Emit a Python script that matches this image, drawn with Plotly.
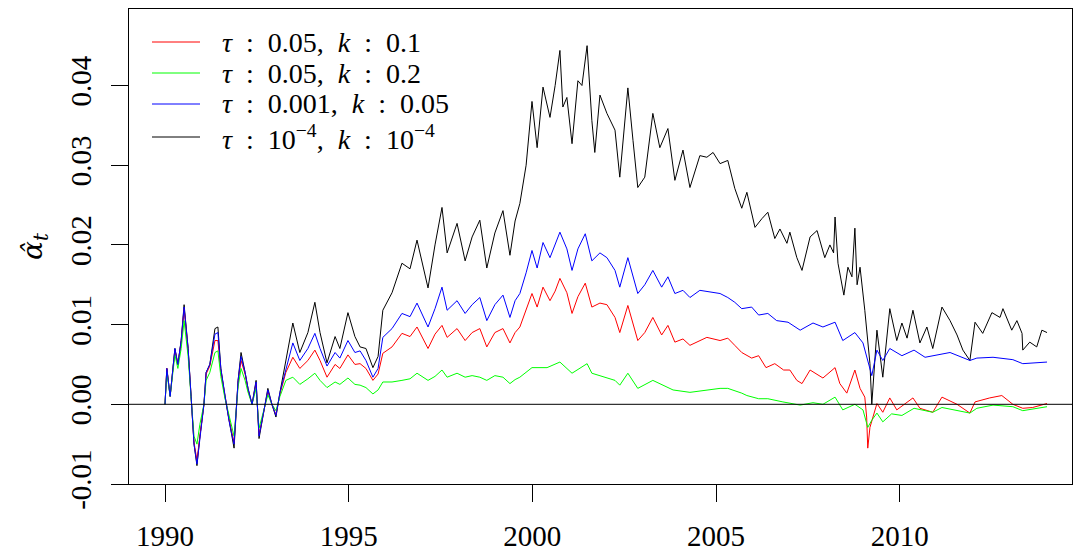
import plotly.graph_objects as go

# ---------------- data ----------------
black_years = [1990.00, 1990.05, 1990.14, 1990.27, 1990.35, 1990.44, 1990.52, 1990.63, 1990.71, 1990.79,
               1990.87, 1990.95, 1991.06, 1991.12, 1991.22, 1991.36, 1991.44, 1991.52, 1991.63, 1991.74,
               1991.82, 1991.88, 1991.99, 1992.07, 1992.18, 1992.26, 1992.37, 1992.48, 1992.56, 1992.72,
               1992.80, 1992.91, 1993.02, 1993.13, 1993.29, 1993.48, 1993.67, 1993.89, 1994.08, 1994.22,
               1994.41, 1994.63, 1994.76, 1994.98, 1995.17, 1995.31, 1995.47, 1995.66, 1995.80, 1995.93,
               1996.18, 1996.45, 1996.67, 1996.86, 1997.16, 1997.35, 1997.54, 1997.68, 1997.95, 1998.17,
               1998.36, 1998.57, 1998.76, 1998.98, 1999.20, 1999.39, 1999.53, 1999.66, 1999.83, 1999.99,
               2000.13, 2000.29, 2000.48, 2000.62, 2000.75, 2000.83, 2000.94, 2001.08, 2001.24, 2001.35,
               2001.49, 2001.62, 2001.70, 2001.84, 2002.03, 2002.25, 2002.38, 2002.60, 2002.74, 2002.87,
               2003.06, 2003.28, 2003.47, 2003.69, 2003.88, 2004.10, 2004.29, 2004.56, 2004.75, 2004.92,
               2005.11, 2005.32, 2005.51, 2005.70, 2005.84, 2006.06, 2006.25, 2006.41, 2006.60, 2006.74,
               2006.93, 2007.01, 2007.20, 2007.34, 2007.56, 2007.75, 2007.96, 2008.10, 2008.20, 2008.24,
               2008.32, 2008.48, 2008.59, 2008.70, 2008.78, 2008.84, 2008.92, 2009.05, 2009.19, 2009.24,
               2009.38, 2009.54, 2009.73, 2009.92, 2010.06, 2010.20, 2010.36, 2010.55, 2010.74, 2010.90,
               2011.15, 2011.37, 2011.56, 2011.72, 2011.91, 2012.05, 2012.26, 2012.51, 2012.73, 2012.81,
               2013.05, 2013.19, 2013.33, 2013.35, 2013.54, 2013.73, 2013.87, 2014.01]
black_vals = [0.0000, 0.0045, 0.0010, 0.0070, 0.0050, 0.0080, 0.0125, 0.0070, 0.0010, -0.0050,
              -0.0077, -0.0040, 0.0000, 0.0040, 0.0050, 0.0095, 0.0097, 0.0045, 0.0010, -0.0020,
              -0.0040, -0.0055, 0.0030, 0.0065, 0.0040, 0.0020, 0.0000, 0.0030, -0.0043, 0.0000,
              0.0020, 0.0000, -0.0016, 0.0015, 0.0055, 0.0102, 0.0065, 0.0090, 0.0128, 0.0090,
              0.0052, 0.0085, 0.0070, 0.0115, 0.0085, 0.0072, 0.0070, 0.0046, 0.0060, 0.0118,
              0.0140, 0.0177, 0.0170, 0.0206, 0.0146, 0.0200, 0.0247, 0.0190, 0.0227, 0.0180,
              0.0210, 0.0231, 0.0171, 0.0215, 0.0243, 0.0187, 0.0230, 0.0252, 0.0300, 0.0380,
              0.0322, 0.0398, 0.0360, 0.0400, 0.0444, 0.0373, 0.0385, 0.0327, 0.0406, 0.0400,
              0.0450, 0.0356, 0.0316, 0.0388, 0.0365, 0.0344, 0.0285, 0.0397, 0.0331, 0.0272,
              0.0285, 0.0365, 0.0322, 0.0346, 0.0281, 0.0319, 0.0272, 0.0312, 0.0310, 0.0316,
              0.0302, 0.0306, 0.0271, 0.0246, 0.0266, 0.0222, 0.0233, 0.0241, 0.0208, 0.0220,
              0.0202, 0.0216, 0.0184, 0.0168, 0.0210, 0.0218, 0.0184, 0.0200, 0.0190, 0.0235,
              0.0177, 0.0137, 0.0172, 0.0160, 0.0221, 0.0150, 0.0172, 0.0118, 0.0051, 0.0000,
              0.0093, 0.0034, 0.0120, 0.0080, 0.0102, 0.0083, 0.0118, 0.0077, 0.0097, 0.0070,
              0.0122, 0.0105, 0.0087, 0.0068, 0.0055, 0.0103, 0.0089, 0.0115, 0.0109, 0.0120,
              0.0093, 0.0105, 0.0089, 0.0068, 0.0078, 0.0072, 0.0093, 0.0090]

early_years = [1990.00, 1990.05, 1990.14, 1990.27, 1990.35, 1990.44, 1990.52, 1990.63, 1990.71, 1990.79,
               1990.87, 1990.95, 1991.06, 1991.12, 1991.22, 1991.36, 1991.44, 1991.52, 1991.63, 1991.74,
               1991.82, 1991.88, 1991.99, 1992.07, 1992.18, 1992.26, 1992.37, 1992.48, 1992.56, 1992.72,
               1992.80, 1992.91, 1993.02, 1993.13, 1993.29, 1993.48, 1993.67, 1993.89, 1994.08, 1994.22,
               1994.41, 1994.63, 1994.76, 1994.98, 1995.17, 1995.31, 1995.47, 1995.66, 1995.80, 1995.93,
               1996.18, 1996.45, 1996.67, 1996.86, 1997.16, 1997.35, 1997.54, 1997.68, 1997.95, 1998.17,
               1998.36, 1998.57, 1998.76, 1998.98, 1999.20, 1999.39, 1999.53, 1999.66, 1999.83, 1999.99]

blue_years = early_years + [
    2000.13, 2000.29, 2000.48, 2000.62, 2000.75, 2000.94, 2001.08, 2001.24, 2001.44, 2001.62,
    2001.84, 2002.03, 2002.25, 2002.38, 2002.60, 2002.87, 2003.06, 2003.28, 2003.52, 2003.69,
    2003.88, 2004.10, 2004.29, 2004.56, 2004.92, 2005.11, 2005.32, 2005.51, 2005.70, 2005.97,
    2006.16, 2006.41, 2006.65, 2006.96, 2007.29, 2007.64, 2007.91, 2008.24, 2008.45, 2008.78,
    2009.00, 2009.19, 2009.24, 2009.38, 2009.54, 2009.73, 2010.06, 2010.39, 2010.69, 2011.37,
    2011.83, 2011.91, 2012.10, 2012.54, 2013.08, 2013.35, 2014.01]
blue_vals = [0.0000, 0.0045, 0.0010, 0.0070, 0.0050, 0.0080, 0.0122, 0.0070, 0.0010, -0.0050,
             -0.0075, -0.0040, 0.0000, 0.0040, 0.0050, 0.0088, 0.0090, 0.0045, 0.0010, -0.0020,
             -0.0038, -0.0050, 0.0030, 0.0060, 0.0040, 0.0020, 0.0000, 0.0028, -0.0040, 0.0000,
             0.0018, 0.0000, -0.0014, 0.0015, 0.0045, 0.0077, 0.0055, 0.0070, 0.0089, 0.0070,
             0.0048, 0.0065, 0.0058, 0.0080, 0.0065, 0.0067, 0.0055, 0.0034, 0.0045, 0.0084,
             0.0095, 0.0114, 0.0110, 0.0127, 0.0097, 0.0120, 0.0147, 0.0118, 0.0130, 0.0114,
             0.0125, 0.0134, 0.0105, 0.0125, 0.0137, 0.0109, 0.0130, 0.0139, 0.0165, 0.0193,
             0.0171, 0.0203, 0.0184, 0.0200, 0.0216, 0.0195, 0.0168, 0.0195, 0.0214, 0.0180,
             0.0190, 0.0184, 0.0168, 0.0147, 0.0184, 0.0139, 0.0150, 0.0168, 0.0147, 0.0160,
             0.0139, 0.0143, 0.0134, 0.0143, 0.0141, 0.0139, 0.0134, 0.0128, 0.0120, 0.0122,
             0.0112, 0.0114, 0.0105, 0.0103, 0.0093, 0.0102, 0.0097, 0.0103, 0.0080, 0.0090,
             0.0077, 0.0046, 0.0036, 0.0068, 0.0055, 0.0070, 0.0061, 0.0068, 0.0059, 0.0065,
             0.0057, 0.0055, 0.0058, 0.0059, 0.0056, 0.0051, 0.0053]

red_years = early_years + [
    2000.13, 2000.29, 2000.48, 2000.62, 2000.75, 2000.94, 2001.08, 2001.24, 2001.44, 2001.62,
    2001.84, 2002.03, 2002.25, 2002.38, 2002.60, 2002.87, 2003.06, 2003.28, 2003.52, 2003.69,
    2003.88, 2004.10, 2004.29, 2004.75, 2005.11, 2005.32, 2005.51, 2005.70, 2005.97, 2006.16,
    2006.36, 2006.60, 2006.84, 2007.01, 2007.20, 2007.34, 2007.56, 2007.91, 2008.24, 2008.37,
    2008.56, 2008.78, 2008.92, 2009.05, 2009.10, 2009.13, 2009.19, 2009.38, 2009.54, 2009.73,
    2009.92, 2010.36, 2010.55, 2010.90, 2011.15, 2011.56, 2011.91, 2012.05, 2012.45, 2012.78,
    2013.08, 2013.35, 2013.62, 2014.01]
red_vals = [0.0000, 0.0045, 0.0010, 0.0068, 0.0050, 0.0078, 0.0120, 0.0068, 0.0010, -0.0048,
            -0.0070, -0.0038, 0.0000, 0.0038, 0.0048, 0.0080, 0.0080, 0.0042, 0.0010, -0.0018,
            -0.0035, -0.0048, 0.0028, 0.0055, 0.0038, 0.0018, 0.0000, 0.0026, -0.0038, 0.0000,
            0.0016, 0.0000, -0.0013, 0.0013, 0.0040, 0.0059, 0.0045, 0.0055, 0.0068, 0.0055,
            0.0034, 0.0050, 0.0045, 0.0062, 0.0050, 0.0051, 0.0045, 0.0030, 0.0038, 0.0064,
            0.0072, 0.0089, 0.0085, 0.0097, 0.0070, 0.0088, 0.0099, 0.0084, 0.0095, 0.0080,
            0.0090, 0.0095, 0.0072, 0.0090, 0.0095, 0.0077, 0.0090, 0.0097, 0.0120, 0.0139,
            0.0122, 0.0147, 0.0130, 0.0142, 0.0158, 0.0140, 0.0114, 0.0135, 0.0152, 0.0122,
            0.0127, 0.0125, 0.0109, 0.0090, 0.0124, 0.0080, 0.0090, 0.0109, 0.0087, 0.0099,
            0.0078, 0.0082, 0.0074, 0.0084, 0.0080, 0.0083, 0.0074, 0.0065, 0.0058, 0.0061,
            0.0046, 0.0051, 0.0043, 0.0043, 0.0030, 0.0026, 0.0043, 0.0033, 0.0046, 0.0026,
            0.0014, 0.0043, 0.0020, 0.0009, -0.0016, -0.0055, -0.0029, 0.0001, -0.0010, 0.0008,
            -0.0007, 0.0008, -0.0005, -0.0010, 0.0009, 0.0000, -0.0011, 0.0003, 0.0008, 0.0011,
            0.0000, -0.0005, -0.0004, 0.0001]

green_years = early_years + [
    2000.40, 2000.75, 2001.08, 2001.49, 2001.62, 2002.25, 2002.38, 2002.60, 2002.87, 2003.28,
    2003.83, 2004.29, 2005.11, 2005.32, 2005.70, 2005.84, 2006.16, 2006.41, 2006.82, 2007.29,
    2007.64, 2007.91, 2008.24, 2008.45, 2008.78, 2009.00, 2009.13, 2009.24, 2009.38, 2009.54,
    2009.78, 2010.06, 2010.39, 2010.90, 2011.15, 2011.91, 2012.10, 2012.54, 2013.08, 2013.35,
    2014.01]
green_vals = [0.0000, 0.0040, 0.0010, 0.0062, 0.0045, 0.0070, 0.0105, 0.0060, 0.0008, -0.0040,
              -0.0050, -0.0025, 0.0000, 0.0030, 0.0040, 0.0065, 0.0067, 0.0035, 0.0008, -0.0015,
              -0.0030, -0.0040, 0.0022, 0.0045, 0.0030, 0.0015, 0.0000, 0.0020, -0.0030, 0.0000,
              0.0012, 0.0000, -0.0008, 0.0010, 0.0030, 0.0034, 0.0025, 0.0032, 0.0039, 0.0030,
              0.0021, 0.0028, 0.0025, 0.0033, 0.0025, 0.0024, 0.0021, 0.0013, 0.0018, 0.0028,
              0.0028, 0.0030, 0.0032, 0.0039, 0.0030, 0.0035, 0.0043, 0.0034, 0.0039, 0.0034,
              0.0036, 0.0034, 0.0030, 0.0036, 0.0034, 0.0026, 0.0031, 0.0034, 0.0040, 0.0046,
              0.0046, 0.0053, 0.0039, 0.0051, 0.0039, 0.0030, 0.0024, 0.0039, 0.0020, 0.0030,
              0.0018, 0.0015, 0.0020, 0.0020, 0.0014, 0.0011, 0.0007, 0.0007, 0.0003, -0.0001,
              0.0002, 0.0000, 0.0009, -0.0007, 0.0000, -0.0007, -0.0029, -0.0020, -0.0011, -0.0022,
              -0.0012, -0.0014, -0.0005, -0.0010, -0.0004, -0.0011, -0.0005, -0.0001, -0.0003, -0.0008,
              -0.0003]

x_tick_vals = [1990, 1995, 2000, 2005, 2010]
x_tick_text = ["1990", "1995", "2000", "2005", "2010"]
y_tick_vals = [-0.01, 0.00, 0.01, 0.02, 0.03, 0.04]
y_tick_text = ["-0.01", "0.00", "0.01", "0.02", "0.03", "0.04"]

SP = "\u2002"
legend_labels = {
    "red": f"<i>τ</i>{SP}:{SP}0.05,{SP}<i>k</i>{SP}:{SP}0.1",
    "green": f"<i>τ</i>{SP}:{SP}0.05,{SP}<i>k</i>{SP}:{SP}0.2",
    "blue": f"<i>τ</i>{SP}:{SP}0.001,{SP}<i>k</i>{SP}:{SP}0.05",
    "black": f"<i>τ</i>{SP}:{SP}10<sup>−4</sup>,{SP}<i>k</i>{SP}:{SP}10<sup>−4</sup>",
}
legend_order = ["red", "green", "blue", "black"]

FONT = "Liberation Serif"
COLORS = {"black": "#000000", "red": "#FF0000", "green": "#00FF00", "blue": "#0000FF"}

# plot-area geometry in pixels
L, R, T, B = 129, 1072, 9, 484
W, H = R - L, B - T

fig = go.Figure()
series = [
    ("black", black_years, black_vals),
    ("red", red_years, red_vals),
    ("green", green_years, green_vals),
    ("blue", blue_years, blue_vals),
]
for key, xs, ys in series:
    fig.add_trace(go.Scatter(x=xs, y=ys, mode="lines", name=legend_labels[key],
                             line=dict(color=COLORS[key], width=1), showlegend=False))

fig.add_hline(y=0, line=dict(color="#000000", width=1))

# legend drawn in the R style (no box, long line samples, tight rows)
row_y = [42, 73, 104, 137]
for key, py in zip(legend_order, row_y):
    yp = (B - py) / H
    fig.add_shape(type="line", xref="paper", yref="paper",
                  x0=(152 - L) / W, x1=(200 - L) / W, y0=yp, y1=yp,
                  line=dict(color=COLORS[key], width=1))
    fig.add_annotation(xref="paper", yref="paper", x=(220 - L) / W, y=yp,
                       xanchor="left", yanchor="middle", showarrow=False,
                       text=legend_labels[key], font=dict(family=FONT, size=28, color="black"))

fig.update_layout(
    width=1073, height=551,
    margin=dict(l=L, r=1073 - R, t=T, b=551 - B),
    plot_bgcolor="white", paper_bgcolor="white",
    font=dict(family=FONT, size=29, color="black"),
    showlegend=False,
    xaxis=dict(range=[1989.02, 2014.69], tickvals=x_tick_vals, ticktext=x_tick_text,
               ticks="outside", ticklen=17, tickcolor="black", tickwidth=1,
               showline=True, linecolor="black", linewidth=1, mirror=True,
               showgrid=False, zeroline=False, ticklabelstandoff=9, automargin=False),
    yaxis=dict(range=[-0.0100, 0.0496], tickvals=y_tick_vals, ticktext=y_tick_text,
               ticks="outside", ticklen=17, tickcolor="black", tickwidth=1, tickangle=-90,
               showline=True, linecolor="black", linewidth=1, mirror=True,
               showgrid=False, zeroline=False, ticklabelstandoff=8, automargin=False,
               title=dict(text="<i>α̂</i><sub><i>t</i></sub>",
                          font=dict(family="DejaVu Serif", size=28), standoff=14)),
)

fig.write_html("out.html", config={"displayModeBar": False},
               post_script="document.body.style.margin='0';document.body.style.overflow='hidden';")
